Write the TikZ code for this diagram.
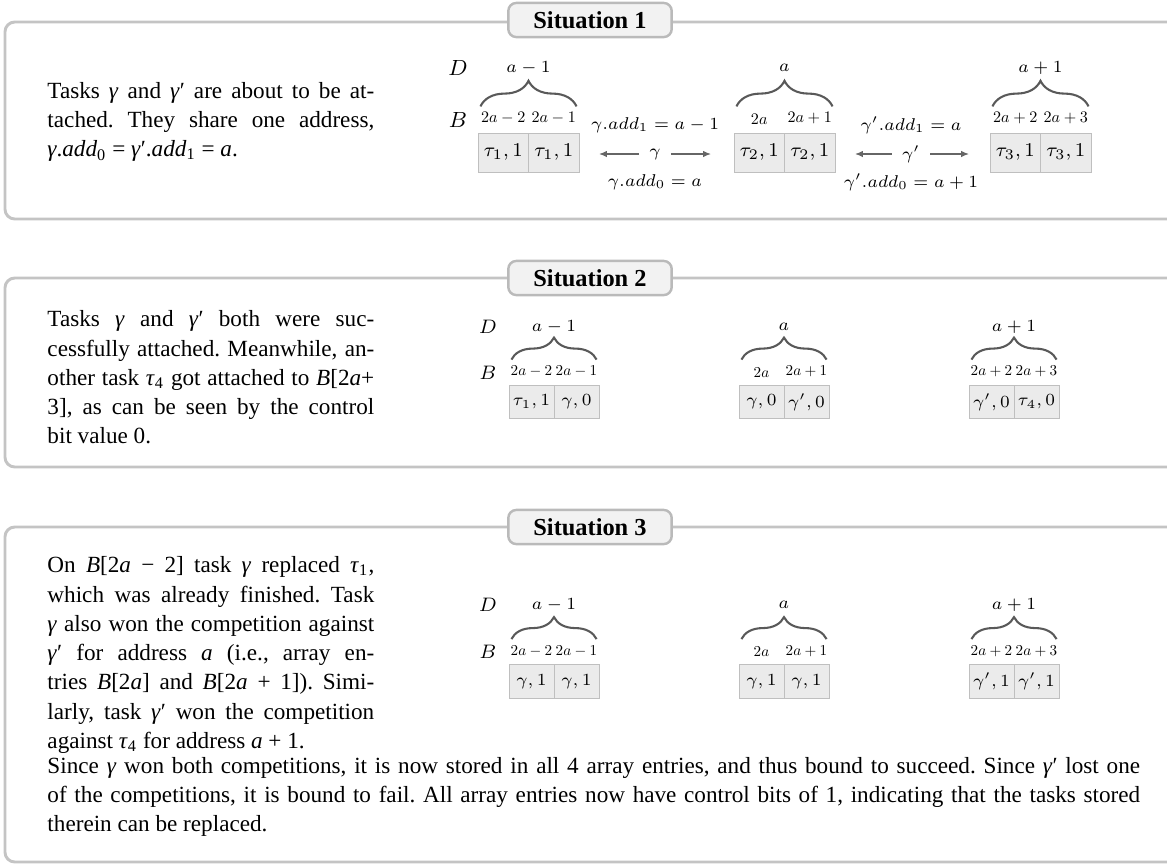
\documentclass[tikz,border=0pt]{standalone}
\usepackage[no-math]{fontspec}
\setmainfont{Liberation Serif}
\usepackage{graphicx}
\usepackage{tikz}
\usetikzlibrary{positioning}
\usetikzlibrary{arrows.meta}
\usetikzlibrary{decorations.pathreplacing}
\newcommand{\mgam}{\textit{γ}}
\newcommand{\mgamp}{\textit{γ}′}
\newcommand{\mtau}[1]{\textit{τ}\textsubscript{#1}}
\newcommand{\mvar}[1]{\textit{#1}}
\newcommand{\ixa}[1]{\scalebox{0.66}{$#1$}}
\newcommand{\ixb}[1]{\scalebox{0.62}{$#1$}}
\frenchspacing

\begin{document}
\begin{tikzpicture}[x=0.41pt,y=-0.41pt,
panel/.style={draw=black!23,line width=1.2pt,rounded corners=4pt},
title/.style={draw=black!27,fill=black!5,line width=1pt,rounded corners=3.3pt,minimum width=67pt,minimum height=14pt,inner sep=0pt,font=\fontsize{10}{12}\selectfont\bfseries},
txt/.style={anchor=west,inner sep=0pt,align=justify,text width=134pt,font=\fontsize{9.5}{12}\selectfont},
cell/.style={draw=black!25,fill=black!8,line width=0.4pt,minimum width=20.7pt,minimum height=16pt,inner sep=0pt,font=\fontsize{8.2}{10}\selectfont},
cellb/.style={cell,minimum width=18.45pt,minimum height=13.9pt,font=\fontsize{7.3}{9}\selectfont},
idx/.style={inner sep=0.5pt,above=2.7pt,font=\fontsize{10}{12}\selectfont},
idxb/.style={inner sep=0.5pt,above=2.4pt,font=\fontsize{10}{12}\selectfont},
rowname/.style={font=\fontsize{9.4}{11}\selectfont},
rownameb/.style={font=\fontsize{8.4}{10}\selectfont},
lab/.style={font=\fontsize{7.5}{9}\selectfont},
labb/.style={font=\fontsize{6.7}{8}\selectfont},
brace/.style={decorate,decoration={brace,amplitude=10.5pt},draw=black!65,line width=0.85pt},
braceb/.style={brace,decoration={brace,amplitude=9pt}},
link/.style={-{Latex[length=3.2pt,width=2.6pt]},draw=black!60,line width=0.5pt}]
\useasboundingbox (0,0) rectangle (1167,865);

\draw [panel] (1180,22) -- (5,22) -- (5,219) -- (1180,219);
\draw [panel] (1180,278) -- (5,278) -- (5,467) -- (1180,467);
\draw [panel] (1180,527) -- (5,527) -- (5,862) -- (1180,862);
\path
(590,20) node [title](t1) {Situation 1}
(590,278) node [title](t2) {Situation 2}
(590,527) node [title](t3) {Situation 3};

\node [txt] (s1) at (47,122) {Tasks \mgam{} and \mgamp{} are about to be at-\linebreak tached. They share one address,\linebreak \mgam.\mvar{add}\textsubscript{0} = \mgamp.\mvar{add}\textsubscript{1} = \mvar{a}.};
\node [txt] (s2) at (47,377.5) {Tasks \mgam{} and \mgamp{} both were suc-\linebreak cessfully attached. Meanwhile, an-\linebreak other task \mtau{4} got attached to \mvar{B}[2\mvar{a}+\linebreak 3], as can be seen by the control\linebreak bit value 0.};
\node [txt] (s3) at (47,655) {On \mvar{B}[2\mvar{a} − 2] task \mgam{} replaced \mtau{1},\linebreak which was already finished. Task\linebreak \mgam{} also won the competition against\linebreak \mgamp{} for address \mvar{a} (i.e., array en-\linebreak tries \mvar{B}[2\mvar{a}] and \mvar{B}[2\mvar{a} + 1]). Simi-\linebreak larly, task \mgamp{} won the competition\linebreak against \mtau{4} for address \mvar{a} + 1.};
\node [txt,text width=448pt] (s4) at (47,797) {Since \mgam{} won both competitions, it is now stored in all 4 array entries, and thus bound to succeed. Since \mgamp{} lost one\linebreak of the competitions, it is bound to fail. All array entries now have control bits of 1, indicating that the tasks stored\linebreak therein can be replaced.};

\path
(458,68) node [rowname](pd1) {$D$}
(458,120) node [rowname](pb1) {$B$}
(503.25,152.5) node [cell](a1) {$\tau_1,1$}
(553.75,152.5) node [cell](a2) {$\tau_1,1$}
(759.25,152.5) node [cell](a3) {$\tau_2,1$}
(809.75,152.5) node [cell](a4) {$\tau_2,1$}
(1015.25,152.5) node [cell](a5) {$\tau_3,1$}
(1065.75,152.5) node [cell](a6) {$\tau_3,1$};
\node [idx] (ia1) at (a1.north) {\ixa{2a-2}};
\node [idx] (ia2) at (a2.north) {\ixa{2a-1}};
\node [idx] (ia3) at (a3.north) {\ixa{2a}};
\node [idx] (ia4) at (a4.north) {\ixa{2a+1}};
\node [idx] (ia5) at (a5.north) {\ixa{2a+2}};
\node [idx] (ia6) at (a6.north) {\ixa{2a+3}};
\draw [brace] ([xshift=1.2pt,yshift=10.7pt]a1.north west) -- ([xshift=-1.2pt,yshift=10.7pt]a2.north east);
\draw [brace] ([xshift=1.2pt,yshift=10.7pt]a3.north west) -- ([xshift=-1.2pt,yshift=10.7pt]a4.north east);
\draw [brace] ([xshift=1.2pt,yshift=10.7pt]a5.north west) -- ([xshift=-1.2pt,yshift=10.7pt]a6.north east);
\path
(528.5,68) node [lab](la1) {$a-1$}
(784.5,68) node [lab](la2) {$a$}
(1040.5,68) node [lab](la3) {$a+1$}
(655,125) node [lab](g1t) {$\gamma.add_1=a-1$}
(655,154) node [lab,inner sep=4pt](g1) {$\gamma$}
(655,182) node [lab](g1b) {$\gamma.add_0=a$}
(911,125) node [lab](g2t) {$\gamma'.add_1=a$}
(911,154) node [lab,inner sep=4pt](g2) {$\gamma'$}
(911,182) node [lab](g2b) {$\gamma'.add_0=a+1$};
\coordinate (g1l) at (599,154);
\coordinate (g1r) at (711,154);
\coordinate (g2l) at (855,154);
\coordinate (g2r) at (969,154);
\draw [link] (g1.west) -- (g1l);
\draw [link] (g1.east) -- (g1r);
\draw [link] (g2.west) -- (g2l);
\draw [link] (g2.east) -- (g2r);

\path
(488,327) node [rownameb](pd2) {$D$}
(488,373) node [rownameb](pb2) {$B$}
(531.5,402) node [cellb](b1) {$\tau_1,1$}
(576.5,402) node [cellb](b2) {$\gamma,0$}
(761.5,402) node [cellb](b3) {$\gamma,0$}
(806.5,402) node [cellb](b4) {$\gamma',0$}
(991.5,402) node [cellb](b5) {$\gamma',0$}
(1036.5,402) node [cellb](b6) {$\tau_4,0$};
\node [idxb] (ib1) at (b1.north) {\ixb{2a-2}};
\node [idxb] (ib2) at (b2.north) {\ixb{2a-1}};
\node [idxb] (ib3) at (b3.north) {\ixb{2a}};
\node [idxb] (ib4) at (b4.north) {\ixb{2a+1}};
\node [idxb] (ib5) at (b5.north) {\ixb{2a+2}};
\node [idxb] (ib6) at (b6.north) {\ixb{2a+3}};
\draw [braceb] ([xshift=1.2pt,yshift=10.25pt]b1.north west) -- ([xshift=-1.2pt,yshift=10.25pt]b2.north east);
\draw [braceb] ([xshift=1.2pt,yshift=10.25pt]b3.north west) -- ([xshift=-1.2pt,yshift=10.25pt]b4.north east);
\draw [braceb] ([xshift=1.2pt,yshift=10.25pt]b5.north west) -- ([xshift=-1.2pt,yshift=10.25pt]b6.north east);
\path
(554,327) node [labb](lb1) {$a-1$}
(784,327) node [labb](lb2) {$a$}
(1014,327) node [labb](lb3) {$a+1$};

\path
(488,605) node [rownameb](pd3) {$D$}
(488,652) node [rownameb](pb3) {$B$}
(531.5,681.5) node [cellb](c1) {$\gamma,1$}
(576.5,681.5) node [cellb](c2) {$\gamma,1$}
(761.5,681.5) node [cellb](c3) {$\gamma,1$}
(806.5,681.5) node [cellb](c4) {$\gamma,1$}
(991.5,681.5) node [cellb](c5) {$\gamma',1$}
(1036.5,681.5) node [cellb](c6) {$\gamma',1$};
\node [idxb] (ic1) at (c1.north) {\ixb{2a-2}};
\node [idxb] (ic2) at (c2.north) {\ixb{2a-1}};
\node [idxb] (ic3) at (c3.north) {\ixb{2a}};
\node [idxb] (ic4) at (c4.north) {\ixb{2a+1}};
\node [idxb] (ic5) at (c5.north) {\ixb{2a+2}};
\node [idxb] (ic6) at (c6.north) {\ixb{2a+3}};
\draw [braceb] ([xshift=1.2pt,yshift=10.25pt]c1.north west) -- ([xshift=-1.2pt,yshift=10.25pt]c2.north east);
\draw [braceb] ([xshift=1.2pt,yshift=10.25pt]c3.north west) -- ([xshift=-1.2pt,yshift=10.25pt]c4.north east);
\draw [braceb] ([xshift=1.2pt,yshift=10.25pt]c5.north west) -- ([xshift=-1.2pt,yshift=10.25pt]c6.north east);
\path
(554,605) node [labb](lc1) {$a-1$}
(784,605) node [labb](lc2) {$a$}
(1014,605) node [labb](lc3) {$a+1$};

\end{tikzpicture}
\end{document}
